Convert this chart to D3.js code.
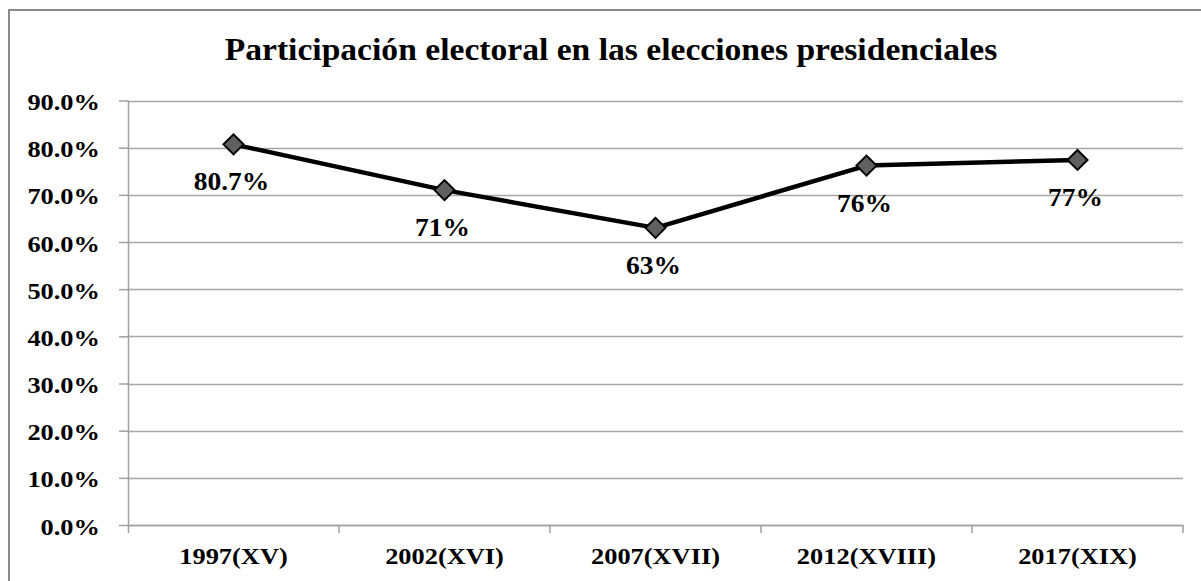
<!DOCTYPE html>
<html>
<head>
<meta charset="utf-8">
<script src="https://cdn.jsdelivr.net/npm/d3@7"></script>
<style>
html,body{margin:0;padding:0;background:#fff;}
svg{display:block;}
text{font-family:"Liberation Serif","Times New Roman",serif;font-weight:bold;fill:#000;}
</style>
</head>
<body>
<svg id="chart" width="1201" height="581"></svg>
<script>
const title = "Participación electoral en las elecciones presidenciales";
const categories = ["1997(XV)", "2002(XVI)", "2007(XVII)", "2012(XVIII)", "2017(XIX)"];
const values = [80.7, 71, 63, 76.2, 77.4];
const pointLabels = ["80.7%", "71%", "63%", "76%", "77%"];
const yTicks = [0, 10, 20, 30, 40, 50, 60, 70, 80, 90];

const svg = d3.select("#chart");
const m = {left: 128, right: 1183, top: 100.5, bottom: 525};
const sx = 1.1;

svg.append("rect").attr("x", 9).attr("y", 10).attr("width", 1200).attr("height", 600)
  .attr("fill", "#fff").attr("stroke", "#8a8a8a").attr("stroke-width", 2);

svg.append("text").attr("transform", "translate(611,60) scale(1.05,1)").attr("text-anchor", "middle")
  .style("font-size", "32px").text(title);

const x = d3.scaleBand().domain(categories).range([m.left, m.right]).paddingInner(0).paddingOuter(0);
const y = d3.scaleLinear().domain([0, 90]).range([m.bottom, m.top]);

// gridlines
svg.append("g").selectAll("line").data(yTicks.filter(d => d > 0)).join("line")
  .attr("x1", m.left).attr("x2", m.right)
  .attr("y1", d => Math.round(y(d)) + 0.5).attr("y2", d => Math.round(y(d)) + 0.5)
  .attr("stroke", "#a6a6a6").attr("stroke-width", 1.5);

// y axis
const yAxis = d3.axisLeft(y).tickValues(yTicks).tickFormat(d => d.toFixed(1) + "%").tickSize(9).tickPadding(16.5);
const gy = svg.append("g").attr("transform", `translate(${m.left},0)`).call(yAxis);
gy.select(".domain").remove();
gy.selectAll(".tick line").attr("stroke", "#a0a0a0").attr("stroke-width", 1.5);
gy.selectAll(".tick text").style("font-size", "24px").attr("font-family", null).attr("fill", "#000")
  .attr("dy", "0.38em").attr("transform", `scale(${sx},1)`);
svg.append("line").attr("x1", m.left + 0.5).attr("x2", m.left + 0.5).attr("y1", m.top).attr("y2", m.bottom + 8)
  .attr("stroke", "#a0a0a0").attr("stroke-width", 1.5);

// x axis
const xAxis = d3.axisBottom(x).tickSize(0).tickPadding(22);
const gx = svg.append("g").attr("transform", `translate(0,${m.bottom})`).call(xAxis);
gx.select(".domain").attr("stroke", "#a0a0a0").attr("stroke-width", 1.5);
gx.selectAll(".tick text").style("font-size", "24px").attr("font-family", null).attr("fill", "#000")
  .attr("transform", `scale(${sx},1)`);
// category boundary tick marks
svg.append("g").selectAll("line").data(categories).join("line")
  .attr("x1", d => x(d) + x.bandwidth()).attr("x2", d => x(d) + x.bandwidth())
  .attr("y1", m.bottom).attr("y2", m.bottom + 8)
  .attr("stroke", "#a0a0a0").attr("stroke-width", 1.5);
svg.append("line").attr("x1", m.left).attr("x2", m.right).attr("y1", m.bottom + 0.5).attr("y2", m.bottom + 0.5)
  .attr("stroke", "#a0a0a0").attr("stroke-width", 1.5);

// line
const pts = categories.map((c, i) => ({c, v: values[i], l: pointLabels[i]}));
const line = d3.line().x(d => x(d.c) + x.bandwidth() / 2).y(d => y(d.v));
svg.append("path").datum(pts).attr("d", line).attr("fill", "none")
  .attr("stroke", "#000").attr("stroke-width", 4.5).attr("stroke-linejoin", "round");

// markers
svg.append("g").selectAll("path").data(pts).join("path")
  .attr("transform", d => `translate(${x(d.c) + x.bandwidth() / 2},${y(d.v)})`)
  .attr("d", "M0,-10L10,0L0,10L-10,0Z")
  .attr("fill", "#606060").attr("stroke", "#000").attr("stroke-width", 2);

// labels
svg.append("g").selectAll("text").data(pts).join("text")
  .attr("transform", d => `translate(${x(d.c) + x.bandwidth() / 2 - 2},${y(d.v) + 46}) scale(${sx},1)`)
  .attr("text-anchor", "middle").style("font-size", "25px").text(d => d.l);
</script>
</body>
</html>
